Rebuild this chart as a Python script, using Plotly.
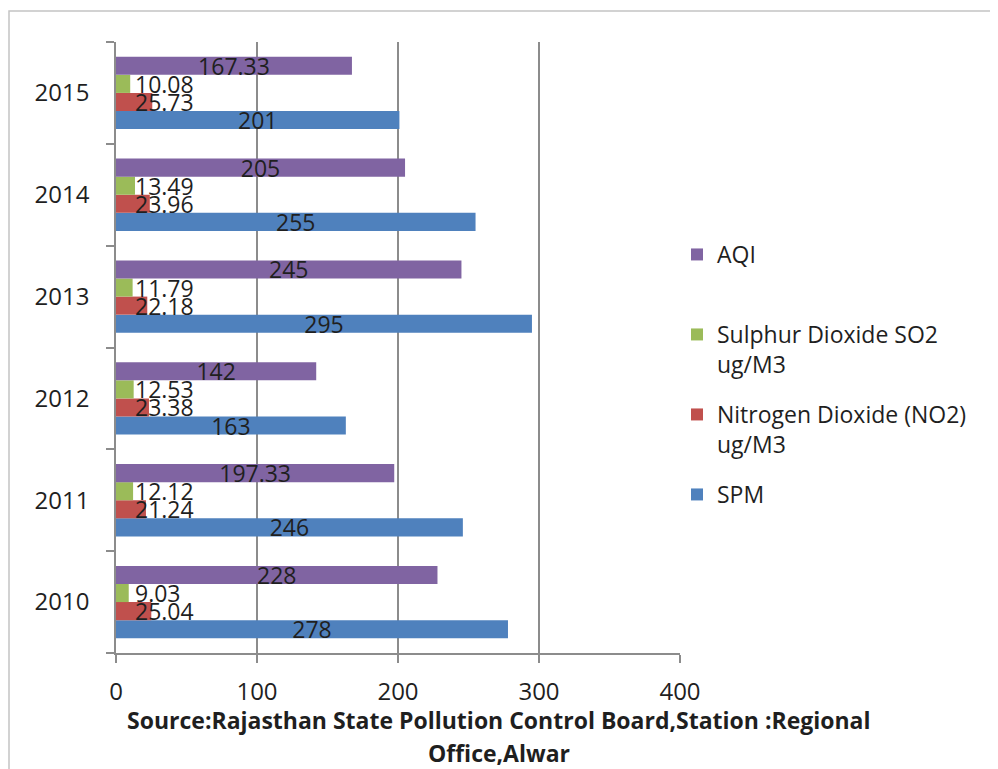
import plotly.graph_objects as go

years = ["2010", "2011", "2012", "2013", "2014", "2015"]
spm = [278, 246, 163, 295, 255, 201]
no2 = [25.04, 21.24, 23.38, 22.18, 23.96, 25.73]
so2 = [9.03, 12.12, 12.53, 11.79, 13.49, 10.08]
aqi = [228, 197.33, 142, 245, 205, 167.33]
x_ticks = [0, 100, 200, 300, 400]

names = ["SPM", "Nitrogen Dioxide (NO2)<br>ug/M3", "Sulphur Dioxide SO2<br>ug/M3", "AQI"]
colors = ["#4F81BD", "#C0504D", "#9BBB59", "#8064A2"]
series = [spm, no2, so2, aqi]
legend_ids = ["legend4", "legend3", "legend2", "legend"]

FONT = "Open Sans"
TXT = "#1f1f1f"
OFF = 8  # page body margin
W, H = 998 - OFF, 769 - OFF
L, T = 116 - OFF, 42 - OFF
R = W - (680 - OFF)
B = H - (653 - OFF)
pw, ph = W - L - R, H - T - B
BARGAP = 0.29


def py(p):
    return (H - B - (p - OFF)) / ph


def px(p):
    return ((p - OFF) - L) / pw


fig = go.Figure()
for j, (nm, col, vals, lg) in enumerate(zip(names, colors, series, legend_ids)):
    big = j in (0, 3)
    fig.add_trace(go.Bar(
        y=years, x=vals, orientation="h", name=nm,
        marker=dict(color=col, line=dict(width=0)),
        text=[f"{v:g}" for v in vals] if big else None,
        textposition="inside" if big else "none",
        insidetextanchor="middle",
        constraintext="none",
        insidetextfont=dict(family=FONT, size=23, color=TXT),
        legend=lg,
        hoverinfo="skip",
    ))

# labels for the thin bars (SO2 / NO2), placed next to the axis
w = (1 - BARGAP) / 4
for j in (1, 2):
    off = -(1 - BARGAP) / 2 + (j + 0.5) * w
    for i, v in enumerate(series[j]):
        fig.add_annotation(x=0, y=i + off, xref="x", yref="y", text=f"{v:.2f}",
                           showarrow=False, xanchor="left", yanchor="middle",
                           xshift=17, font=dict(family=FONT, size=23, color=TXT))

# source text (two lines)
fig.add_annotation(x=px(499), y=py(702), xref="paper", yref="paper",
                   text="Source:Rajasthan State Pollution Control Board,Station :Regional",
                   showarrow=False, xanchor="center", yanchor="top",
                   font=dict(family=FONT, size=23, color=TXT, weight="bold"))
fig.add_annotation(x=px(499), y=py(735), xref="paper", yref="paper",
                   text="Office,Alwar",
                   showarrow=False, xanchor="center", yanchor="top",
                   font=dict(family=FONT, size=23, color=TXT, weight="bold"))

# outer chart border
fig.add_shape(type="rect", xref="paper", yref="paper",
              x0=px(9), x1=px(1010), y0=py(790), y1=py(11),
              line=dict(color="#c4c4c4", width=1.5), fillcolor="rgba(0,0,0,0)", layer="below")

leg_common = dict(font=dict(family=FONT, size=23, color=TXT), valign="top",
                  xanchor="left", yanchor="top", bgcolor="rgba(0,0,0,0)",
                  itemclick=False, itemdoubleclick=False, x=px(677))
tops = {"legend": 233, "legend2": 313, "legend3": 393, "legend4": 473}
fig.update_layout(
    width=W, height=H,
    margin=dict(l=L, r=R, t=T, b=B),
    paper_bgcolor="white", plot_bgcolor="white",
    barmode="group", bargap=BARGAP, bargroupgap=0,
    showlegend=True,
    legend=dict(y=py(tops["legend"]), **leg_common),
    legend2=dict(y=py(tops["legend2"]), **leg_common),
    legend3=dict(y=py(tops["legend3"]), **leg_common),
    legend4=dict(y=py(tops["legend4"]), **leg_common),
    xaxis=dict(range=[0, 400], tickvals=x_ticks, ticktext=[str(t) for t in x_ticks],
               showgrid=True, gridcolor="#8c8c8c", gridwidth=1.5,
               showline=True, linecolor="#8c8c8c", linewidth=1.5,
               ticks="outside", ticklen=8, tickcolor="#8c8c8c", tickwidth=1.5,
               ticklabelstandoff=8,
               tickfont=dict(family=FONT, size=24, color=TXT),
               zeroline=False, fixedrange=True),
    yaxis=dict(type="category", categoryorder="array", categoryarray=years,
               showline=True, linecolor="#8c8c8c", linewidth=1.5,
               ticks="outside", ticklen=8, tickcolor="#8c8c8c", tickwidth=1.5,
               tickson="boundaries", ticklabelstandoff=20,
               tickfont=dict(family=FONT, size=24, color=TXT),
               showgrid=False, zeroline=False, fixedrange=True),
)

fig.write_html("out.html")
